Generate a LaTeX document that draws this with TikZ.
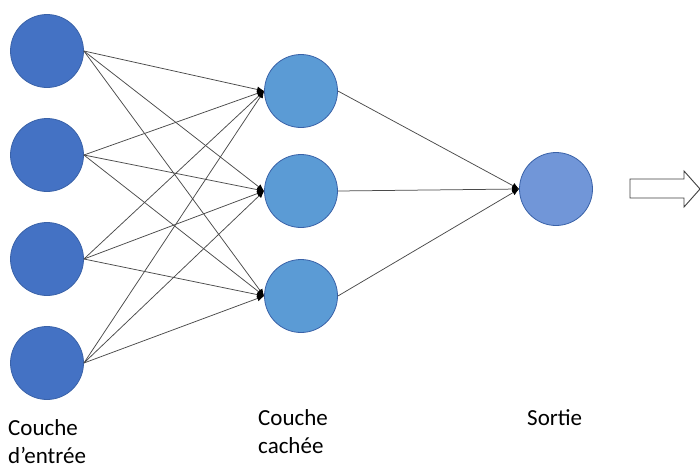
\documentclass[tikz,border=0pt]{standalone}
\usepackage{fontspec}
\setmainfont{Carlito}
\usetikzlibrary{arrows.meta}
\definecolor{inblue}{HTML}{4472C4}
\definecolor{hidblue}{HTML}{5B9BD5}
\definecolor{outblue}{HTML}{7196D8}
\definecolor{rim}{HTML}{3A62A8}
\definecolor{edgegray}{HTML}{4A4A4A}
\begin{document}
\begin{tikzpicture}[x=1pt,y=-1pt,
  neuron/.style={circle,minimum size=73pt,inner sep=0pt,draw=rim,line width=0.8pt},
  innode/.style={neuron,fill=inblue},
  hidnode/.style={neuron,fill=hidblue},
  outnode/.style={neuron,fill=outblue},
  link/.style={draw=edgegray,line width=0.75pt,-{Latex[length=7pt,width=6pt,black]}},
  label/.style={font=\fontsize{23}{28}\selectfont,align=left,inner sep=0pt,anchor=base west}]
\useasboundingbox (0,0) rectangle (700,466);
\node[innode] (i1) at (47,51) {};
\node[innode] (i2) at (47,155) {};
\node[innode] (i3) at (47,259) {};
\node[innode] (i4) at (47,363) {};
\node[hidnode] (h1) at (301,91) {};
\node[hidnode] (h2) at (301,191) {};
\node[hidnode] (h3) at (301,296) {};
\node[outnode] (o) at (556,189) {};
\foreach \i in {1,...,4}{
  \foreach \h in {1,2,3}{
    \draw[link] (i\i.east) -- (h\h.west);
  }
}
\foreach \h in {1,2,3}{
  \draw[link] (h\h.east) -- (o.west);
}
\draw[line width=0.9pt,draw=black!75,fill=white]
  (630,179) -- (684,179) -- (684,171) -- (700,189) -- (684,207) -- (684,198) -- (630,198) -- cycle;
\node[label] (lin) at (8,463) {Couche\\d’entrée};
\node[label] (lhid) at (258,453) {Couche\\cachée};
\node[label] (lout) at (527,425) {Sortie};
\end{tikzpicture}
\end{document}
